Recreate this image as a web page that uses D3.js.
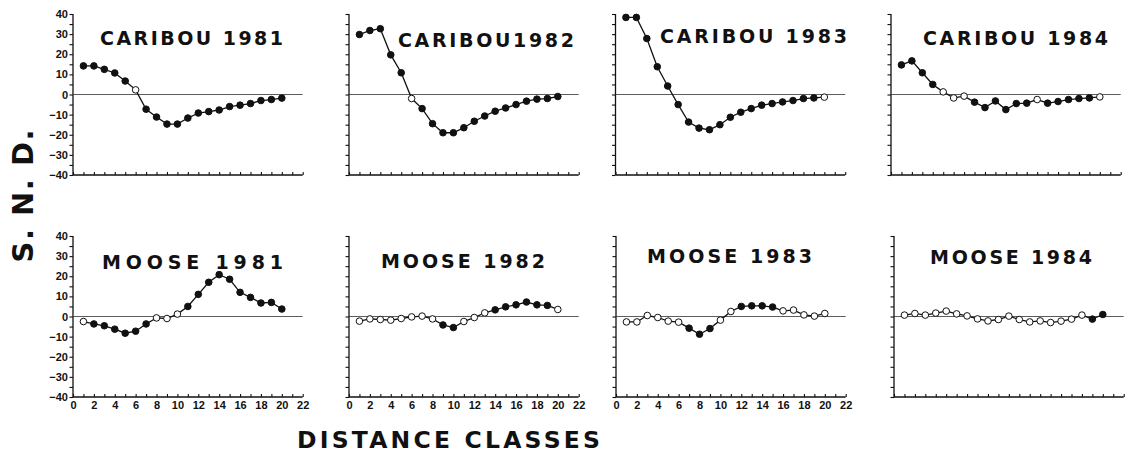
<!DOCTYPE html>
<html><head><meta charset="utf-8">
<script src="https://cdn.jsdelivr.net/npm/d3@7"></script>
<style>body{margin:0;background:#fff}svg{display:block}</style>
</head><body>
<svg id="c" width="1142" height="462"></svg>
<script>
// ---------- data ----------
const distanceClasses = [1,2,3,4,5,6,7,8,9,10,11,12,13,14,15,16,17,18,19,20];
const xTickValues = [0,2,4,6,8,10,12,14,16,18,20,22];
const yTickValues = [-40,-30,-20,-10,0,10,20,30,40];
const panelTitles = ["CARIBOU 1981","CARIBOU1982","CARIBOU 1983","CARIBOU 1984",
                     "MOOSE 1981","MOOSE 1982","MOOSE 1983","MOOSE 1984"];

const caribou1981 = [14.2,14.2,12.5,10.7,6.7,2.3,-7.3,-11.2,-14.7,-14.7,-11.7,-9.2,-8.5,-7.7,-6,-5.3,-4.5,-3,-2.5,-1.8];
const caribou1982 = [29.8,31.8,32.7,19.7,10.8,-2,-7,-14.5,-19,-19,-16.5,-13.3,-10.7,-8.3,-6.7,-5,-3.3,-2.3,-2,-1];
const caribou1983 = [38.3,38.3,27.8,13.8,4.2,-5,-13.7,-16.7,-17.5,-15,-11.3,-8.8,-7,-5.3,-4.5,-3.7,-3,-2,-1.7,-1.3];
const caribou1984 = [14.7,16.7,10.8,5,1.3,-1.7,-0.8,-3.8,-6.5,-3.2,-7.5,-4.5,-4.3,-2.5,-4.3,-3.5,-2.5,-2,-1.7,-1.2];
const moose1981   = [-2.5,-3.7,-4.6,-6.3,-8.3,-7.3,-3.7,-0.7,-1,1.2,5,11,17,20.8,18.5,12,9.5,6.7,7,3.7];
const moose1982   = [-2.3,-1.2,-1.5,-1.8,-1,-0.2,0.2,-1.2,-4.2,-5.5,-2.5,-0.5,1.8,3.3,4.8,5.8,7.2,5.8,5.5,3.5];
const moose1983   = [-2.7,-2.7,0.5,-0.5,-2.3,-2.8,-5.8,-8.8,-6,-1.8,2.5,5,5.3,5.3,4.7,2.8,3.2,0.8,0.2,1.5];
const moose1984   = [0.7,1.5,0.7,1.7,2.7,1.3,0.3,-1.2,-2.2,-1.5,0.2,-1.5,-2.7,-2.2,-3,-2.3,-1.3,0.7,-1.3,1];

// distance classes drawn with open (non-significant) symbols
const openCaribou1981 = [6];
const openCaribou1982 = [6];
const openCaribou1983 = [20];
const openCaribou1984 = [5,6,7,14,20];
const openMoose1981   = [1,8,9,10];
const openMoose1982   = [1,2,3,4,5,6,7,8,11,12,13,20];
const openMoose1983   = [1,2,3,4,5,6,10,11,16,17,18,19,20];
const openMoose1984   = [1,2,3,4,5,6,7,8,9,10,11,12,13,14,15,16,17,18];

const seriesValues = [caribou1981,caribou1982,caribou1983,caribou1984,moose1981,moose1982,moose1983,moose1984];
const seriesOpen = [openCaribou1981,openCaribou1982,openCaribou1983,openCaribou1984,openMoose1981,openMoose1982,openMoose1983,openMoose1984];

// ---------- layout ----------
const panelLayout = [
  {x:73,  y:14,  tx:27, ty:31, tw:183, yLab:true,  xLab:false},
  {x:349, y:14,  tx:49, ty:33, tw:176, yLab:false, xLab:false},
  {x:615.5,y:14, tx:44.5,ty:29, tw:187, yLab:false, xLab:false},
  {x:891, y:14,  tx:32, ty:31, tw:185, yLab:false, xLab:false},
  {x:73,  y:236, tx:29, ty:33, tw:181, yLab:true,  xLab:true},
  {x:349, y:236, tx:32, ty:32, tw:164, yLab:false, xLab:true},
  {x:616, y:236, tx:31, ty:27, tw:165, yLab:false, xLab:true},
  {x:894, y:236, tx:36, ty:28, tw:162, yLab:false, xLab:false}
];
const W = 229.7, H = 161;

const svg = d3.select("#c");
const x = d3.scaleLinear().domain([0,22]).range([0,W]);
const y = d3.scaleLinear().domain([-40,40]).range([H,0]);
const fontFam = "'Liberation Sans', Arial, Helvetica, sans-serif";
const titleFam = "'DejaVu Sans', Verdana, sans-serif";

panelLayout.forEach((p,i) => {
  const g = svg.append("g").attr("transform",`translate(${p.x},${p.y})`);

  // y axis
  const yAxis = d3.axisLeft(y).tickValues(d3.range(-40,41,5)).tickSize(3.5)
      .tickFormat(d => (p.yLab && yTickValues.includes(d)) ? d3.format("")(d) : "");
  const ya = g.append("g").call(yAxis);
  ya.select(".domain").attr("d",`M0,${y(-40)}V${y(40)}`).attr("stroke","#111").attr("stroke-width",1.3);
  ya.selectAll(".tick line").attr("stroke","#111").attr("stroke-width",1.1);
  ya.selectAll("text").attr("font-family",fontFam).attr("font-weight","bold")
     .attr("font-size",11).attr("fill","#111").attr("x",-5);

  // x axis (ticks pointing inward)
  const xAxis = d3.axisBottom(x).tickValues(d3.range(0,23,1)).tickSize(-3)
      .tickFormat(d => (p.xLab && xTickValues.includes(d)) ? d : "");
  const xa = g.append("g").attr("transform",`translate(0,${H})`).call(xAxis);
  xa.select(".domain").attr("d",`M0,0H${W}`).attr("stroke","#111").attr("stroke-width",1.3);
  xa.selectAll(".tick line").attr("stroke","#111").attr("stroke-width",1.1);
  xa.selectAll("text").attr("font-family",fontFam).attr("font-weight","bold")
     .attr("font-size",11).attr("fill","#111").attr("y",4);

  // zero line
  g.append("line").attr("x1",x(0)).attr("x2",x(22)).attr("y1",y(0)).attr("y2",y(0))
    .attr("stroke","#333").attr("stroke-width",0.8);

  // title
  g.append("text").attr("x",p.tx).attr("y",p.ty)
    .attr("font-family",titleFam).attr("font-weight","bold").attr("font-size",19)
    .attr("fill","#111").attr("textLength",p.tw).attr("lengthAdjust","spacing")
    .text(panelTitles[i]);

  const vals = seriesValues[i];
  const pts = distanceClasses.map((d,j) => ({d, v: vals[j], open: seriesOpen[i].includes(d)}));
  const line = d3.line().x(d => x(d.d)).y(d => y(d.v));
  g.append("path").datum(pts).attr("d",line).attr("fill","none")
    .attr("stroke","#111").attr("stroke-width",1.3);
  g.selectAll("circle.pt").data(pts).join("circle").attr("class","pt")
    .attr("cx",d => x(d.d)).attr("cy",d => y(d.v)).attr("r",3.3)
    .attr("fill",d => d.open ? "#fff" : "#111").attr("stroke","#111").attr("stroke-width",1);
});

// axis titles
svg.append("text").attr("transform","translate(33,196) rotate(-90)")
  .attr("text-anchor","middle").attr("font-family",titleFam).attr("font-weight","bold")
  .attr("font-size",29).attr("fill","#111").attr("textLength",133).attr("lengthAdjust","spacing")
  .text("S. N. D.");
svg.append("text").attr("x",297).attr("y",448)
  .attr("font-family",titleFam).attr("font-weight","bold")
  .attr("font-size",23.5).attr("fill","#111").attr("textLength",303).attr("lengthAdjust","spacing")
  .text("DISTANCE CLASSES");
</script>
</body></html>
